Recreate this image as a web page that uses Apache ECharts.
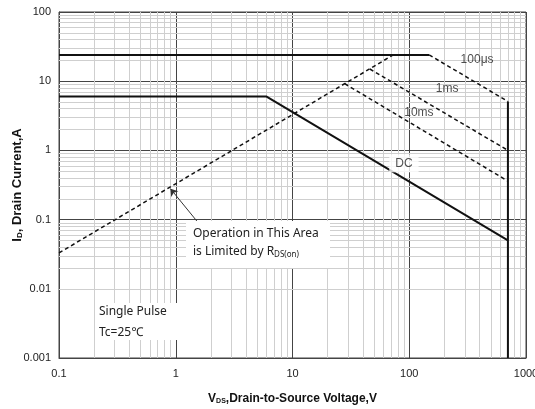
<!DOCTYPE html>
<html lang="en">
<head>
    <meta charset="UTF-8">
    <title>Safe Operating Area</title>
    <script src="https://cdn.jsdelivr.net/npm/echarts@6.0.0/dist/echarts.min.js"></script>
    <style>
        * { margin: 0; padding: 0 }
        html, body { width: 100%; height: 100%; background: #fff; }
        #main { width: 535px; height: 409px; }
    </style>
</head>
<body>
<div id="main"></div>
<script type="text/javascript">
    // SOA boundary segments, [V, A]
    var rdsLimit = [[0.1, 0.033], [73, 24]];
    var flat100us = [[0.1, 24], [148, 24]];
    var drop100us = [[148, 24], [700, 5.1]];
    var line1ms = [[46, 15], [700, 1]];
    var line10ms = [[28, 9.2], [700, 0.36]];
    var lineDC = [[0.1, 6], [6, 6], [700, 0.05]];
    var lineBVdss = [[700, 5.1], [700, 0.001]];

    // curve labels [V, A, text]
    var curveLabels = [[381, 20.7, '100μs'], [211, 7.9, '1ms'], [121, 3.5, '10ms']];
    var dcLabel = [[90, 0.65, 'DC']];

    // arrow pointing at the Rds(on) line
    var arrowFrom = [1.62, 0.083];
    var arrowTo = [0.9, 0.28];

    var xTickLabels = { 0.1: '0.1', 1: '1', 10: '10', 100: '100', 1000: '1000' };
    var yTickLabels = { 0.001: '0.001', 0.01: '0.01', 0.1: '0.1', 1: '1', 10: '10', 100: '100' };

    var xDecades = [0.1, 1, 10, 100];
    var yDecades = [0.001, 0.01, 0.1, 1, 10];
    var minorSteps = [2, 3, 4, 5, 6, 7, 8, 9];

    var xMinor = [], yMinor = [];
    xDecades.forEach(function (d) { minorSteps.forEach(function (k) { xMinor.push({ xAxis: +(d * k).toPrecision(3) }); }); });
    yDecades.forEach(function (d) { minorSteps.forEach(function (k) { yMinor.push({ yAxis: +(d * k).toPrecision(3) }); }); });

    var myChart = echarts.init(document.getElementById('main'));

    var solid = { color: '#111', width: 2, type: 'solid' };
    var dashed = { color: '#111', width: 1.5, type: [4, 3] };
    var narrow = '"Liberation Sans Narrow", "Noto Sans", sans-serif';

    function seg(data, style) {
        return { type: 'line', data: data, symbol: 'none', lineStyle: style, silent: true, z: 5 };
    }

    function tickText(map) {
        return function (v) {
            var key = +v.toPrecision(3);
            return map[key] !== undefined ? map[key] : '';
        };
    }

    var option = {
        animation: false,
        grid: {
            left: 59, right: 9, top: 12, bottom: 51,
            outerBoundsMode: 'none', containLabel: false,
            show: true, borderColor: '#444', borderWidth: 1
        },
        xAxis: {
            type: 'log', logBase: 10, min: 0.1, max: 1000,
            name: '{b|V}{s|DS}{b|,Drain-to-Source Voltage,V}',
            nameLocation: 'middle', nameGap: 34,
            nameTextStyle: {
                rich: {
                    b: { fontFamily: 'Liberation Sans, Arial', fontWeight: 'bold', fontSize: 12, color: '#111' },
                    s: { fontFamily: 'Liberation Sans, Arial', fontWeight: 'bold', fontSize: 7, color: '#111', padding: [6, 0, 0, 0] }
                }
            },
            axisLine: { show: true, lineStyle: { color: '#444' } },
            axisTick: { show: false },
            axisLabel: { color: '#222', fontSize: 11, fontFamily: 'Liberation Sans, Arial', margin: 10, formatter: tickText(xTickLabels) },
            splitLine: { show: true, lineStyle: { color: '#444', width: 1 } }
        },
        yAxis: {
            type: 'log', logBase: 10, min: 0.001, max: 100,
            name: '{b|I}{s|D}{b|, Drain Current,A}',
            nameLocation: 'middle', nameGap: 35, nameRotate: 90, nameMoveOverlap: false,
            nameTextStyle: {
                rich: {
                    b: { fontFamily: 'Liberation Sans, Arial', fontWeight: 'bold', fontSize: 13, color: '#111' },
                    s: { fontFamily: 'Liberation Sans, Arial', fontWeight: 'bold', fontSize: 8, color: '#111', padding: [6, 0, 0, 0] }
                }
            },
            axisLine: { show: true, lineStyle: { color: '#444' } },
            axisTick: { show: false },
            axisLabel: { color: '#222', fontSize: 11, fontFamily: 'Liberation Sans, Arial', margin: 8, formatter: tickText(yTickLabels) },
            splitLine: { show: true, lineStyle: { color: '#444', width: 1 } }
        },
        graphic: [
            {
                type: 'rect', shape: { x: 186, y: 221, width: 144, height: 47 },
                style: { fill: '#fff' }, z: 10
            },
            {
                type: 'text', left: 193, top: 228, z: 11,
                style: { text: 'Operation in This Area', fill: '#222', font: '12px ' + narrow }
            },
            {
                type: 'text', left: 193, top: 246, z: 11,
                style: {
                    text: '{n|is Limited by R}{s|DS(on)}',
                    rich: {
                        n: { font: '12px ' + narrow, fill: '#222' },
                        s: { font: '8px ' + narrow, fill: '#222', padding: [6, 0, 0, 0] }
                    }
                }
            },
            {
                type: 'rect', shape: { x: 95, y: 303, width: 100, height: 37 },
                style: { fill: '#fff' }, z: 10
            },
            {
                type: 'text', left: 99, top: 306, z: 11,
                style: { text: 'Single Pulse', fill: '#222', font: '12px ' + narrow }
            },
            {
                type: 'text', left: 99, top: 327, z: 11,
                style: { text: 'Tc=25℃', fill: '#222', font: '12px ' + narrow }
            }
        ],
        series: [
            {
                type: 'line', data: [], silent: true, z: 1,
                markLine: {
                    silent: true, symbol: 'none', animation: false,
                    label: { show: false },
                    lineStyle: { color: '#cfcfcf', width: 1, type: 'solid' },
                    data: xMinor.concat(yMinor)
                }
            },
            seg(rdsLimit, dashed),
            seg(flat100us, solid),
            seg(drop100us, dashed),
            seg(line1ms, dashed),
            seg(line10ms, dashed),
            seg(lineDC, solid),
            seg(lineBVdss, solid),
            {
                type: 'line', data: [], silent: true, z: 12,
                markLine: {
                    silent: true, symbol: ['none', 'arrow'], symbolSize: 7,
                    label: { show: false },
                    lineStyle: { color: '#333', width: 1, type: 'solid' },
                    data: [[{ coord: arrowFrom }, { coord: arrowTo }]]
                }
            },
            {
                type: 'scatter', symbolSize: 0, silent: true, z: 12,
                data: curveLabels,
                label: {
                    show: true, position: 'inside', color: '#222', fontSize: 12,
                    fontFamily: 'Liberation Sans, Arial',
                    formatter: function (p) { return p.data[2]; }
                }
            },
            {
                type: 'scatter', symbolSize: 0, silent: true, z: 12,
                data: dcLabel,
                label: {
                    show: true, position: 'inside', color: '#222', fontSize: 12,
                    fontFamily: 'Liberation Sans, Arial', backgroundColor: '#fff', padding: [3, 6],
                    formatter: function (p) { return p.data[2]; }
                }
            }
        ]
    };

    myChart.setOption(option);
</script>
</body>
</html>
